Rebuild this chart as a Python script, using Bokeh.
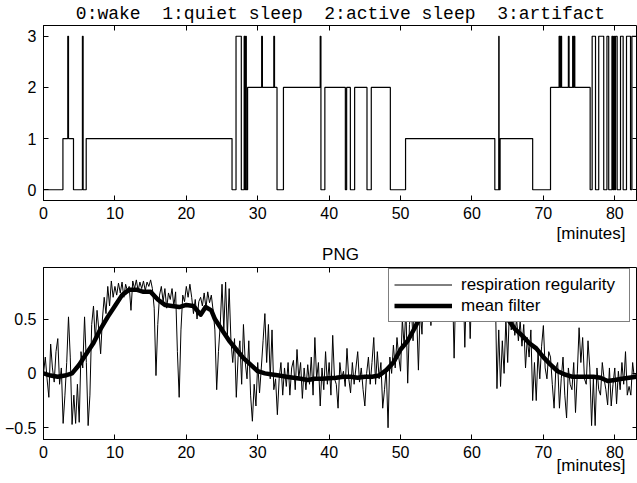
import numpy as np
from bokeh.plotting import figure
from bokeh.layouts import column
from bokeh.models import FixedTicker, LinearAxis, Range1d, Legend, LegendItem, Title
from bokeh.embed import file_html
from bokeh.resources import INLINE

# ---------------- data ----------------
state_title = "0:wake\u00a0 1:quiet sleep\u00a0 2:active sleep\u00a0 3:artifact"
minute_label = "[minutes]"
png_title = "PNG"
minute_ticks = [0, 10, 20, 30, 40, 50, 60, 70, 80]
state_ticks = [0, 1, 2, 3]
png_ticks = [-0.5, 0, 0.5]

# sleep state changes (minute, state from that minute on)
state_t = [0, 2.72, 3.40, 3.50, 4.20, 5.45, 5.55, 5.98, 26.40, 26.96, 27.70, 28.10, 28.20,
           28.30, 28.40, 28.58, 30.55, 30.65, 32.25, 32.35, 32.70, 33.60, 38.75, 38.85,
           39.40, 42.27, 42.45, 42.97, 43.57, 45.30, 45.90, 48.57, 50.70, 63.20, 63.75,
           63.80, 63.94, 68.50, 71.00, 72.20, 72.30, 72.40, 72.55, 73.50, 73.60, 74.10,
           74.20, 74.30, 74.40, 76.55, 76.83, 77.30, 77.75, 78.45, 78.90, 79.15, 79.60,
           79.72, 79.85, 79.97, 80.10, 80.33, 80.80, 81.17, 81.64, 82.20, 82.40, 83.30]
state_v = [0, 1, 3, 1, 0, 3, 0, 1, 0, 3, 0, 3, 0,
           3, 0, 2, 3, 2, 3, 2, 0, 2, 3, 0,
           2, 0, 2, 0, 2, 0, 2, 0, 1, 0, 3,
           0, 1, 0, 2, 3, 2, 3, 2, 3, 2, 3,
           2, 3, 2, 0, 3, 0, 3, 0, 3, 0, 3,
           0, 3, 0, 3, 0, 3, 0, 3, 0, 3, 3]

# respiration regularity, one sample every 0.25 minutes (4 per row = 1 minute)
raw_step = 0.25
raw_v = [
    0.00, 0.15, -0.05, -0.22,   # 0
    0.27, 0.05, -0.08, 0.20,    # 1
    0.32, -0.10, 0.05, -0.46,   # 2
    -0.20, 0.10, 0.52, 0.15,    # 3
    -0.47, -0.20, -0.46, -0.10,  # 4
    -0.45, 0.20, 0.05, 0.52,    # 5
    0.10, -0.48, -0.20, 0.45,   # 6
    0.62, 0.30, 0.58, 0.40,     # 7
    0.18, 0.50, 0.70, 0.55,     # 8
    0.80, 0.62, 0.85, 0.70,     # 9
    0.80, 0.72, 0.83, 0.74,     # 10
    0.84, 0.70, 0.82, 0.76,     # 11
    0.80, 0.58, 0.85, 0.78,     # 12
    0.86, 0.76, 0.84, 0.78,     # 13
    0.85, 0.76, 0.84, 0.80,     # 14
    0.86, 0.78, 0.60, -0.02,    # 15
    0.45, 0.72, 0.80, 0.66,     # 16
    0.78, 0.60, 0.74, 0.68,     # 17
    0.78, 0.62, 0.75, 0.20,     # 18
    -0.22, 0.40, 0.72, 0.66,    # 19
    0.80, 0.70, 0.82, 0.70,     # 20
    0.55, 0.68, 0.50, 0.66,     # 21
    0.70, 0.62, 0.74, 0.60,     # 22
    0.75, 0.65, 0.72, 0.58,     # 23
    0.40, -0.15, 0.20, 0.45,    # 24
    0.82, 0.40, 0.84, 0.35,     # 25
    0.78, 0.30, 0.10, 0.32,     # 26
    -0.22, 0.15, 0.30, -0.10,   # 27
    0.45, 0.10, -0.05, 0.30,    # 28
    -0.20, -0.44, -0.10, -0.30,  # 29
    0.10, -0.18, 0.05, 0.30,    # 30
    0.55, 0.10, 0.45, -0.05,    # 31
    0.40, -0.15, -0.05, -0.38,  # 32
    -0.05, 0.10, -0.20, 0.05,   # 33
    -0.12, 0.10, -0.20, 0.05,   # 34
    0.12, -0.15, 0.22, -0.05,   # 35
    0.10, -0.23, 0.05, -0.15,   # 36
    0.08, -0.10, 0.15, -0.20,   # 37
    0.33, -0.05, 0.10, -0.30,   # 38
    0.05, -0.15, 0.20, -0.10,   # 39
    0.10, -0.20, 0.35, -0.05,   # 40
    -0.10, -0.32, 0.10, -0.05,  # 41
    0.02, -0.12, 0.23, -0.05,   # 42
    -0.18, 0.10, -0.10, 0.05,   # 43
    0.20, -0.08, 0.05, -0.15,   # 44
    -0.30, 0.00, 0.15, -0.10,   # 45
    0.10, 0.33, -0.10, 0.20,    # 46
    -0.05, 0.10, -0.32, -0.15,  # 47
    0.05, -0.50, 0.15, 0.00,    # 48
    0.26, 0.05, 0.33, 0.15,     # 49
    0.02, 0.50, 0.25, 0.60,     # 50
    -0.09, 0.45, 0.62, 0.30,    # 51
    0.75, 0.55, 0.03, 0.60,     # 52
    0.36, 0.85, 0.90, 0.80,     # 53
    0.90, 0.44, 0.88, 0.84,     # 54
    0.80, 0.90, 0.85, 0.88,     # 55
    0.82, 0.90, 0.86, 0.84,     # 56
    0.90, 0.88, 0.14, 0.85,     # 57
    0.88, 0.80, 0.86, 0.90,     # 58
    0.24, 0.86, 0.90, 0.32,     # 59
    0.84, 0.88, 0.82, 0.90,     # 60
    0.86, 0.80, 0.88, 0.84,     # 61
    0.90, 0.86, 0.82, 0.88,     # 62
    0.70, 0.85, -0.14, 0.40,    # 63
    -0.12, 0.30, 0.00, 0.50,    # 64
    0.10, 0.60, 0.40, 0.55,     # 65
    0.35, 0.50, 0.30, 0.48,     # 66
    0.25, 0.45, 0.05, 0.33,     # 67
    0.15, 0.40, -0.25, 0.10,    # 68
    -0.25, 0.20, -0.05, 0.25,   # 69
    0.44, 0.05, -0.05, 0.20,    # 70
    0.15, -0.10, -0.32, 0.05,   # 71
    0.10, -0.32, -0.05, 0.15,   # 72
    -0.20, -0.41, 0.05, -0.10,  # 73
    -0.15, 0.10, -0.36, 0.00,   # 74
    0.42, 0.10, 0.33, -0.05,    # 75
    -0.10, 0.30, 0.05, -0.48,   # 76
    -0.05, -0.48, 0.05, -0.15,  # 77
    -0.20, 0.10, -0.05, -0.15,  # 78
    -0.29, 0.05, -0.30, -0.10,  # 79
    0.05, -0.28, 0.02, -0.15,   # 80
    0.10, -0.10, 0.20, -0.20,   # 81
    -0.12, -0.20, 0.10, -0.05,  # 82
    0.00,                       # 83
]
raw_t = [round(i * raw_step, 2) for i in range(len(raw_v))]

# mean filter
mean_t = [0, 1, 2, 3, 4, 5, 6, 7, 8, 9, 10, 11, 12, 13, 14, 15, 16, 17, 18, 19, 20, 21,
          22, 22.7, 23.5, 24, 25, 26, 27, 28, 29, 30, 31, 32, 33, 34, 35, 36, 37, 38, 39,
          40, 41, 42, 43, 44, 45, 46, 47, 48, 49, 50, 51, 52, 53, 54, 55, 56, 57, 58, 59,
          60, 61, 62, 63, 64, 65, 66, 67, 68, 69, 70, 71, 72, 73, 74, 75, 76, 77, 78, 79,
          80, 81, 82, 83]
mean_v = [0.00, -0.02, -0.03, -0.02, 0.00, 0.08, 0.18, 0.28, 0.41, 0.52, 0.62, 0.72,
          0.77, 0.77, 0.75, 0.75, 0.68, 0.63, 0.62, 0.61, 0.63, 0.62, 0.54, 0.61, 0.58,
          0.50, 0.40, 0.30, 0.22, 0.14, 0.08, 0.02, 0.00, -0.01, -0.02, -0.03, -0.04,
          -0.05, -0.06, -0.05, -0.05, -0.045, -0.04, -0.03, -0.03, -0.04, -0.03, -0.03,
          -0.02, 0.03, 0.10, 0.22, 0.30, 0.42, 0.55, 0.70, 0.80, 0.85, 0.87, 0.88, 0.88,
          0.88, 0.87, 0.85, 0.78, 0.62, 0.50, 0.41, 0.35, 0.28, 0.23, 0.15, 0.08, 0.02,
          -0.01, -0.03, -0.03, -0.03, -0.03, -0.04, -0.07, -0.06, -0.05, -0.04, -0.03]

SANS = "Liberation Sans"
MONO = "Liberation Mono"


def style(p, yticks):
    p.xgrid.visible = False
    p.ygrid.visible = False
    p.outline_line_color = "black"
    p.outline_line_width = 1
    p.background_fill_color = "white"
    p.border_fill_color = "white"
    p.xaxis.ticker = FixedTicker(ticks=minute_ticks)
    p.yaxis.ticker = FixedTicker(ticks=yticks)
    for ax in list(p.xaxis) + list(p.yaxis):
        ax.major_tick_in = 5
        ax.major_tick_out = 0
        ax.minor_tick_line_color = None
        ax.axis_line_color = "black"
        ax.major_tick_line_color = "black"
        ax.major_label_text_font = SANS
        ax.major_label_text_font_size = "16px"
        ax.major_label_text_color = "black"
    p.xaxis.major_label_standoff = 6
    p.yaxis.major_label_standoff = 7
    top = LinearAxis(ticker=FixedTicker(ticks=minute_ticks), major_tick_in=5, major_tick_out=0,
                     minor_tick_line_color=None, axis_line_color=None,
                     major_label_overrides={t: "" for t in minute_ticks},
                     major_label_standoff=0)
    right = LinearAxis(ticker=FixedTicker(ticks=yticks), major_tick_in=5, major_tick_out=0,
                       minor_tick_line_color=None, axis_line_color=None,
                       major_label_overrides={t: "" for t in yticks},
                       major_label_standoff=0)
    p.add_layout(top, "above")
    p.add_layout(right, "right")


# ---------------- top panel ----------------
p1 = figure(width=637, height=243, output_backend="svg", toolbar_location=None,
            x_range=Range1d(0, 83.18), y_range=Range1d(-0.21, 3.21),
            min_border_left=43, min_border_right=0, min_border_top=25, min_border_bottom=42)
p1.title = Title(text=state_title, align="center", text_font=MONO, text_font_size="18px",
                 text_font_style="normal", text_color="black", standoff=3)
style(p1, state_ticks)
p1.step(state_t, state_v, mode="after", line_color="black", line_width=1.2)
p1.add_layout(Title(text=minute_label, align="right", offset=12, text_font=SANS,
                    text_font_size="17px", text_font_style="normal", text_color="black",
                    vertical_align="bottom", standoff=1), "below")

# ---------------- bottom panel ----------------
p2 = figure(width=637, height=240, output_backend="svg", toolbar_location=None,
            x_range=Range1d(0, 83.18), y_range=Range1d(-0.608, 0.974),
            min_border_left=43, min_border_right=0, min_border_top=21, min_border_bottom=44)
p2.title = Title(text=png_title, align="center", text_font=SANS, text_font_size="17px",
                 text_font_style="normal", text_color="black", vertical_align="top",
                 standoff=3)
style(p2, png_ticks)
r_raw = p2.line(raw_t, raw_v, line_color="black", line_width=1, line_join="round")
r_mean = p2.line(mean_t, mean_v, line_color="black", line_width=4.5, line_join="round")
p2.add_layout(Title(text=minute_label, align="right", offset=12, text_font=SANS,
                    text_font_size="17px", text_font_style="normal", text_color="black",
                    vertical_align="top", standoff=-9), "below")

legend = Legend(items=[LegendItem(label="respiration regularity", renderers=[r_raw]),
                       LegendItem(label="mean filter", renderers=[r_mean])],
                location=(345, 117))
legend.border_line_color = "black"
legend.border_line_width = 1
legend.background_fill_color = "white"
legend.background_fill_alpha = 1
legend.label_text_font = SANS
legend.label_text_font_size = "17px"
legend.label_text_color = "black"
legend.glyph_width = 58
legend.glyph_height = 21
legend.label_height = 21
legend.label_width = 163
legend.label_standoff = 9
legend.padding = 5
legend.spacing = 0
legend.margin = 0
p2.add_layout(legend)

layout = column(p1, p2, spacing=0)
open("out.html", "w").write(file_html(layout, INLINE))
